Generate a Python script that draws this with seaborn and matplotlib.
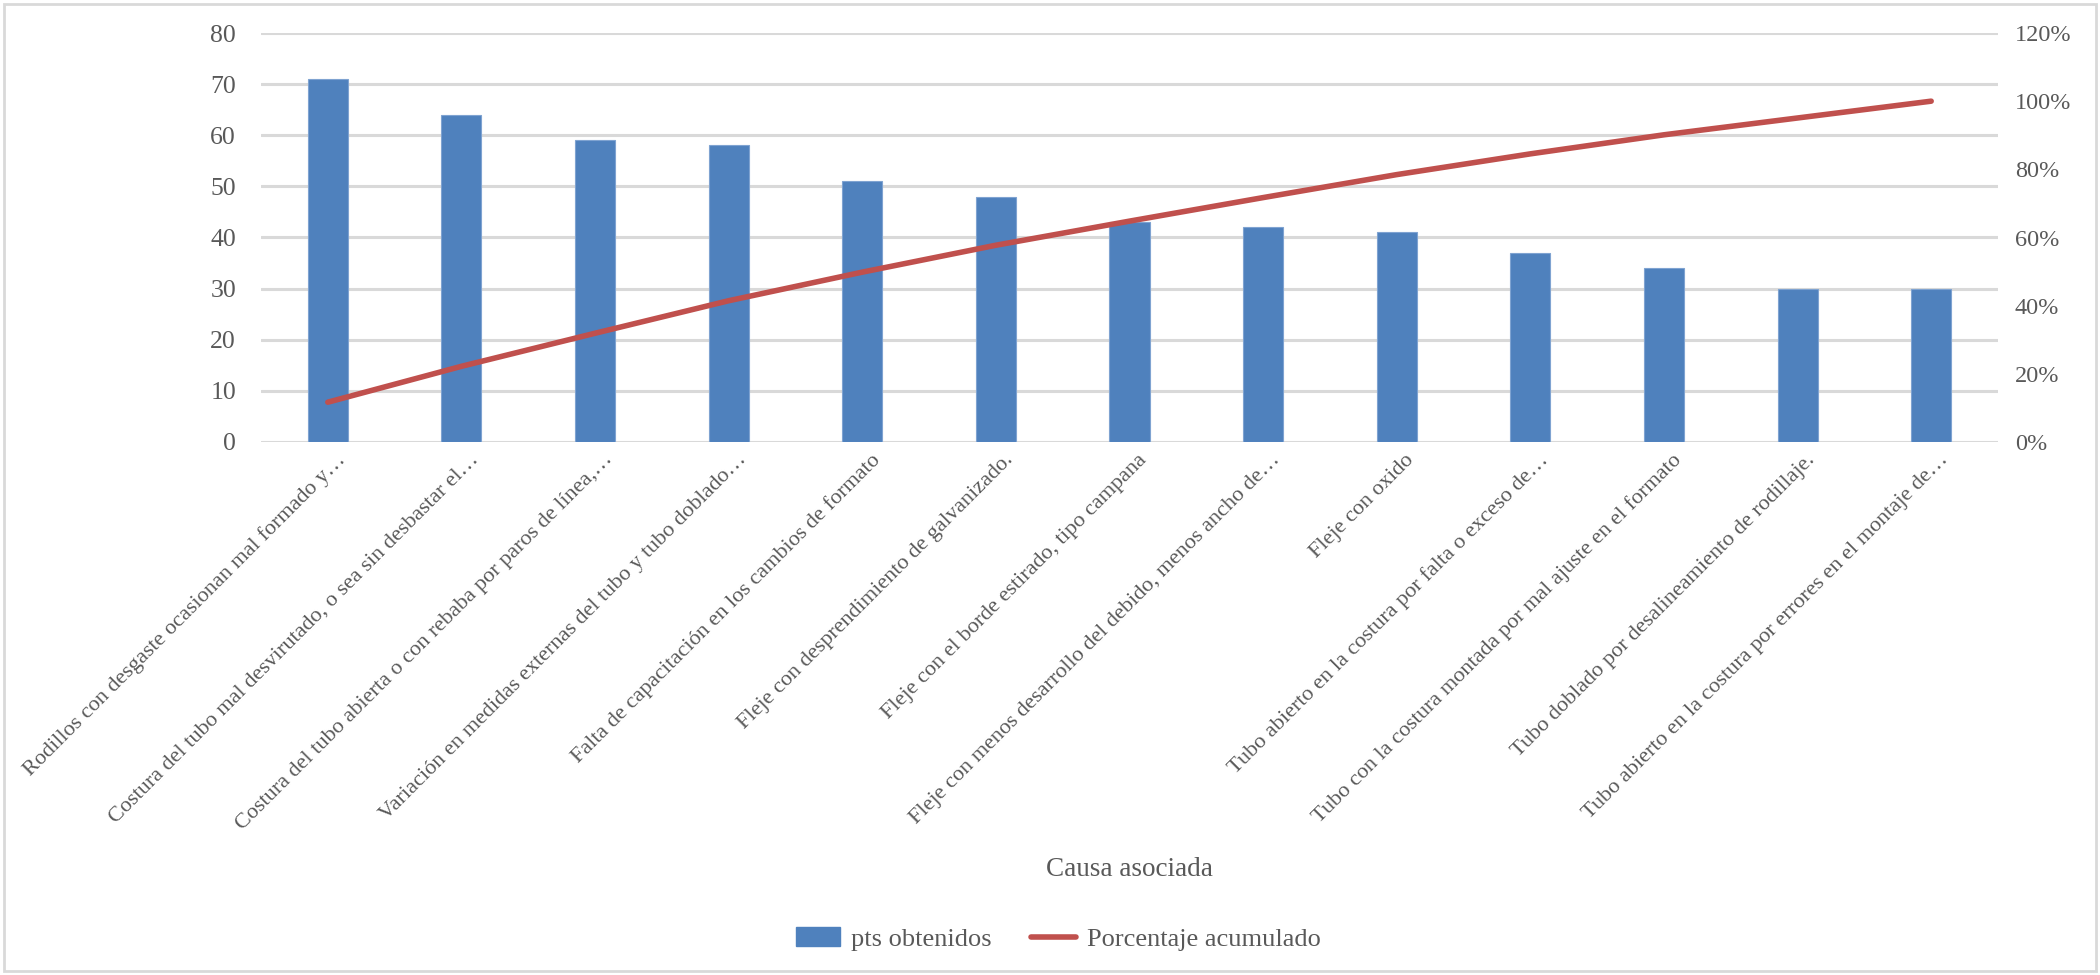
import numpy as np
import pandas as pd
import matplotlib
matplotlib.use("Agg")
import matplotlib.pyplot as plt
import seaborn as sns
from matplotlib.patches import Rectangle, Patch
from matplotlib.lines import Line2D
from matplotlib.ticker import FuncFormatter
from matplotlib.transforms import ScaledTranslation

# Causes, ordered from most to least points
causas = [
    "Rodillos con desgaste ocasionan mal formado y…",
    "Costura del tubo mal desvirutado, o sea sin desbastar el…",
    "Costura del tubo abierta o con rebaba por paros de línea,…",
    "Variación en medidas externas del tubo y tubo doblado…",
    "Falta de capacitación en los cambios de formato",
    "Fleje con desprendimiento de galvanizado.",
    "Fleje con el borde estirado, tipo campana",
    "Fleje con menos desarrollo del debido, menos ancho de…",
    "Fleje con oxido",
    "Tubo abierto en la costura por falta o exceso de…",
    "Tubo con la costura montada por mal ajuste en el formato",
    "Tubo doblado por desalineamiento de rodillaje.",
    "Tubo abierto en la costura por errores en el montaje de…",
]
pts_obtenidos = [71, 64, 59, 58, 51, 48, 43, 42, 41, 37, 34, 30, 30]

left_ticks = [0, 10, 20, 30, 40, 50, 60, 70, 80]
right_ticks = [0.0, 0.2, 0.4, 0.6, 0.8, 1.0, 1.2]

BAR_COLOR = "#4F81BD"
LINE_COLOR = "#C0504D"
TEXT_COLOR = "#595959"
GRID_COLOR = "#D9D9D9"

df = pd.DataFrame({"causa": causas, "pts": pts_obtenidos})
df["pos"] = np.arange(len(df))
df["acumulado"] = df["pts"].cumsum() / df["pts"].sum()

sns.set_theme(style="white")
plt.rcParams["font.family"] = ["Liberation Serif", "DejaVu Serif"]
plt.rcParams["text.color"] = TEXT_COLOR

W, H = 2100, 975
fig = plt.figure(figsize=(W / 100, H / 100), dpi=100)
fig.patch.set_facecolor("white")

x0, x1, y_top, y_bot = 261, 1998, 33, 442
ax = fig.add_axes([x0 / W, 1 - y_bot / H, (x1 - x0) / W, (y_bot - y_top) / H])

sns.barplot(data=df, x="causa", y="pts", color=BAR_COLOR, width=0.3,
            saturation=1, ax=ax, edgecolor="#7FA3D1", linewidth=0.8, zorder=3)
ax.set_ylim(0, 80)
ax.set_yticks(left_ticks)
ax.yaxis.grid(True, color=GRID_COLOR, linewidth=2.2, zorder=0)
ax.set_axisbelow(True)
for s in ax.spines.values():
    s.set_visible(False)
ax.tick_params(axis="y", length=0, pad=18, labelsize=18.5, labelcolor=TEXT_COLOR)
ax.tick_params(axis="x", length=0, pad=6, labelsize=16, labelcolor=TEXT_COLOR)
ax.set_xticks(df["pos"])
ax.set_xticklabels(causas, rotation=45, ha="right", rotation_mode="anchor")
shift = ScaledTranslation(8 / 100, 0, fig.dpi_scale_trans)
for lbl in ax.get_xticklabels():
    lbl.set_transform(lbl.get_transform() + shift)
ax.set_ylabel("")
ax.set_xlabel("")
ax.set_xlim(-0.5, len(df) - 0.5)

ax2 = ax.twinx()
sns.lineplot(data=df, x="pos", y="acumulado", color=LINE_COLOR, linewidth=4,
             ax=ax2, solid_capstyle="round", zorder=4)
ax2.set_ylim(0, 1.2)
ax2.set_yticks(right_ticks)
ax2.yaxis.set_major_formatter(FuncFormatter(lambda v, p: f"{v * 100:.0f}%"))
ax2.tick_params(axis="y", length=0, pad=12, labelsize=17.5, labelcolor=TEXT_COLOR)
ax2.set_ylabel("")
ax2.set_xlabel("")
for s in ax2.spines.values():
    s.set_visible(False)
ax2.set_xlim(-0.5, len(df) - 0.5)

fig.text(1129 / W, 1 - 870 / H, "Causa asociada", ha="center", va="center",
         fontsize=19.5, color=TEXT_COLOR)

handles = [
    Patch(facecolor=BAR_COLOR, edgecolor=BAR_COLOR),
    Line2D([0], [0], color=LINE_COLOR, linewidth=4, solid_capstyle="round"),
]
fig.legend(handles, ["pts obtenidos", "Porcentaje acumulado"], loc="center",
           bbox_to_anchor=(1058 / W, 1 - 939 / H), ncol=2, frameon=False,
           fontsize=19, handlelength=1.7, handletextpad=0.4, columnspacing=1.5,
           labelcolor=TEXT_COLOR)

fig.add_artist(Rectangle((4 / W, 4 / H), (W - 8) / W, (H - 8) / H,
                         transform=fig.transFigure, fill=False,
                         edgecolor=GRID_COLOR, linewidth=2))

fig.savefig("out.png", dpi=100, facecolor="white")
